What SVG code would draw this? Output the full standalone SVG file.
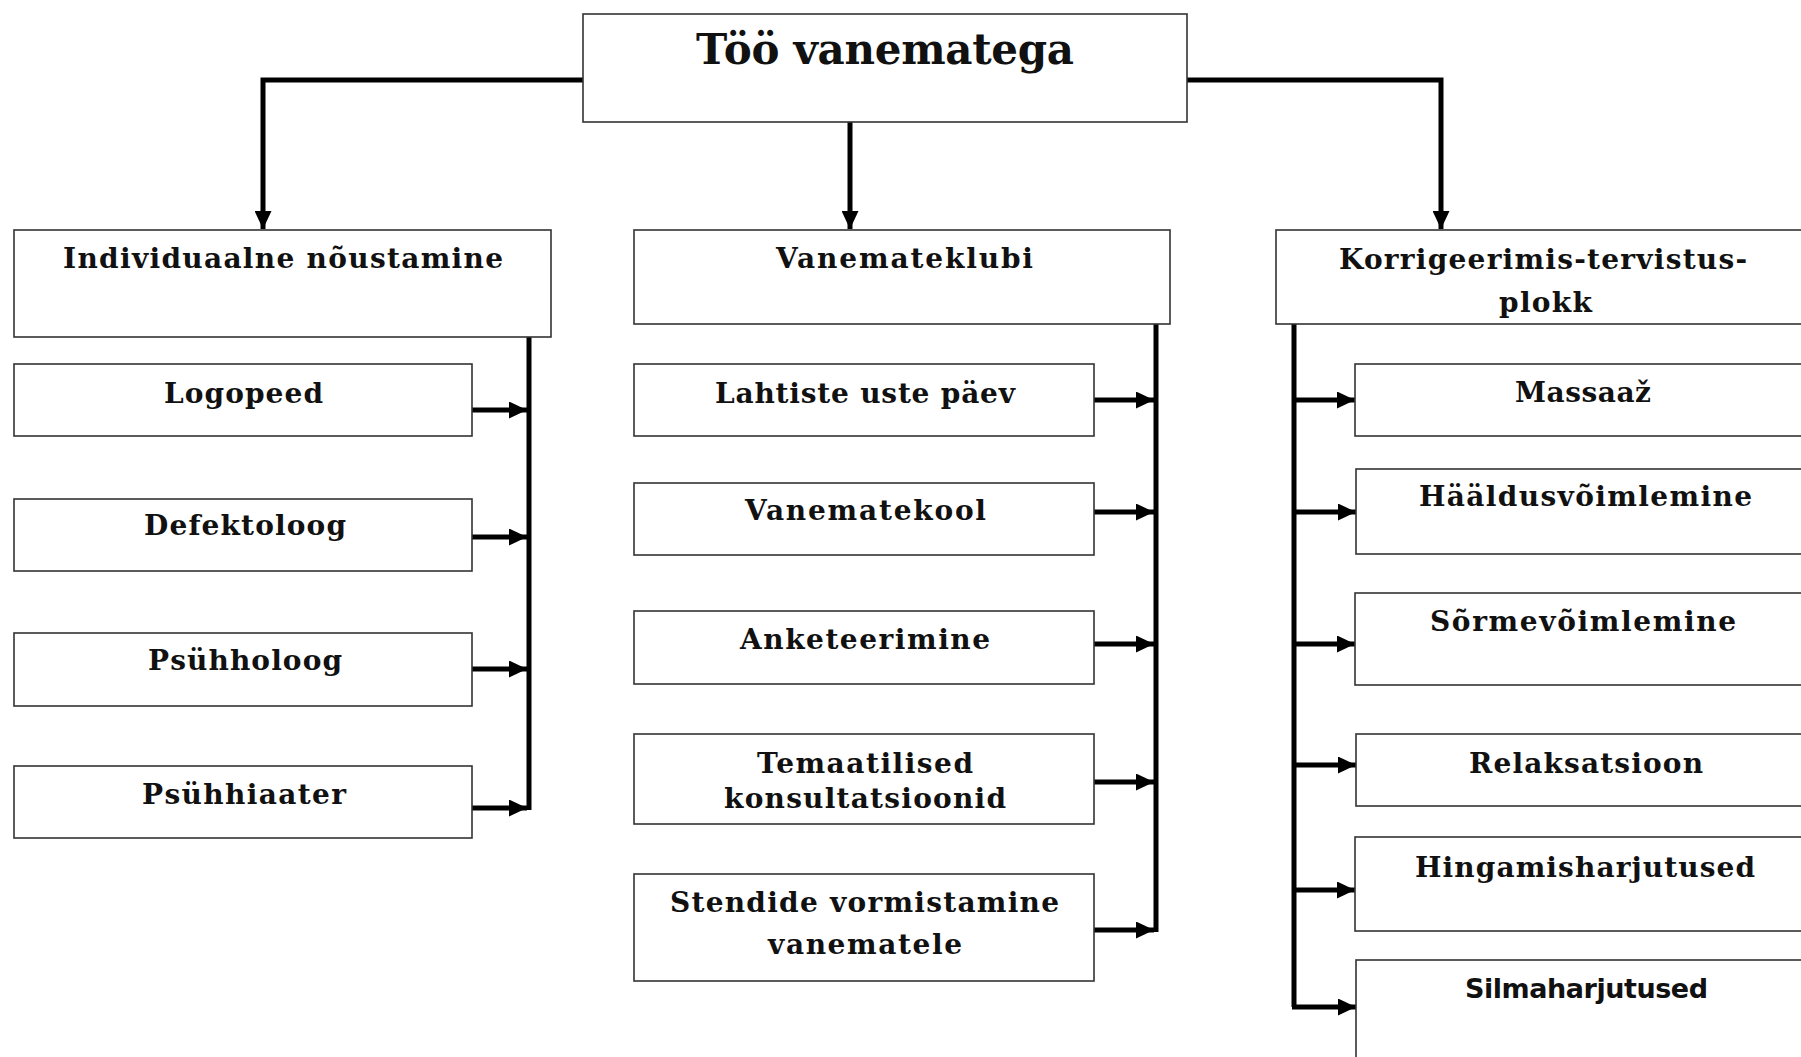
<svg xmlns="http://www.w3.org/2000/svg" width="1801" height="1057" viewBox="0 0 1801 1057">
<defs>
<style>
.box{fill:#fff;stroke:#333;stroke-width:1.6}
.t{font-family:"DejaVu Serif","Liberation Serif",serif;font-weight:bold;font-size:28px;fill:#111}
.ts{font-family:"DejaVu Sans","Liberation Sans",sans-serif;font-weight:bold;font-size:27px;fill:#111}
.title{font-family:"DejaVu Serif","Liberation Serif",serif;font-weight:bold;font-size:42px;fill:#111}
.c{fill:none;stroke:#000;stroke-width:5}
</style>
<marker id="ah" markerUnits="userSpaceOnUse" markerWidth="18" markerHeight="17" refX="18" refY="8.5" orient="auto">
<path d="M0,0 L18,8.5 L0,17 z" fill="#000"/>
</marker>
</defs>
<rect width="1801" height="1057" fill="#fff"/>

<g id="connectors">
<path class="c" d="M583,80 H263 V229" marker-end="url(#ah)"/>
<path class="c" d="M850,122 V229" marker-end="url(#ah)"/>
<path class="c" d="M1187,80 H1441 V229" marker-end="url(#ah)"/>
<path class="c" d="M529,337 V810"/>
<path class="c" d="M472,410 H527" marker-end="url(#ah)"/>
<path class="c" d="M472,537 H527" marker-end="url(#ah)"/>
<path class="c" d="M472,669 H527" marker-end="url(#ah)"/>
<path class="c" d="M472,808 H527" marker-end="url(#ah)"/>
<path class="c" d="M1156,324 V932"/>
<path class="c" d="M1094,400 H1154" marker-end="url(#ah)"/>
<path class="c" d="M1094,512 H1154" marker-end="url(#ah)"/>
<path class="c" d="M1094,644 H1154" marker-end="url(#ah)"/>
<path class="c" d="M1094,782 H1154" marker-end="url(#ah)"/>
<path class="c" d="M1094,930 H1154" marker-end="url(#ah)"/>
<path class="c" d="M1294,323 V1007"/>
<path class="c" d="M1294,400 H1355" marker-end="url(#ah)"/>
<path class="c" d="M1294,512 H1356" marker-end="url(#ah)"/>
<path class="c" d="M1294,644 H1355" marker-end="url(#ah)"/>
<path class="c" d="M1294,765 H1356" marker-end="url(#ah)"/>
<path class="c" d="M1294,890 H1355" marker-end="url(#ah)"/>
<path class="c" d="M1292,1007 H1356" marker-end="url(#ah)"/>
</g>

<g id="n-root"><rect class="box" x="583" y="14" width="604" height="108"/><text class="title" x="696" y="64" textLength="378" lengthAdjust="spacing">Töö vanematega</text></g>

<g id="n-individuaalne"><rect class="box" x="14" y="230" width="537" height="107"/><text class="t" x="63" y="268" textLength="440" lengthAdjust="spacing">Individuaalne nõustamine</text></g>
<g id="n-vanemateklubi"><rect class="box" x="634" y="230" width="536" height="94"/><text class="t" x="776" y="268" textLength="257" lengthAdjust="spacing">Vanemateklubi</text></g>
<g id="n-korrigeerimis"><rect class="box" x="1276" y="230" width="540" height="94"/><text class="t" x="1339" y="269" textLength="408" lengthAdjust="spacing">Korrigeerimis-tervistus-</text><text class="t" x="1499" y="312" textLength="93" lengthAdjust="spacing">plokk</text></g>

<g id="n-logopeed"><rect class="box" x="14" y="364" width="458" height="72"/><text class="t" x="164" y="403" textLength="159" lengthAdjust="spacing">Logopeed</text></g>
<g id="n-defektoloog"><rect class="box" x="14" y="499" width="458" height="72"/><text class="t" x="144" y="535" textLength="202" lengthAdjust="spacing">Defektoloog</text></g>
<g id="n-psuhholoog"><rect class="box" x="14" y="633" width="458" height="73"/><text class="t" x="148" y="670" textLength="194" lengthAdjust="spacing">Psühholoog</text></g>
<g id="n-psuhhiaater"><rect class="box" x="14" y="766" width="458" height="72"/><text class="t" x="142" y="804" textLength="204" lengthAdjust="spacing">Psühhiaater</text></g>

<g id="n-lahtiste"><rect class="box" x="634" y="364" width="460" height="72"/><text class="t" x="715" y="403" textLength="300" lengthAdjust="spacing">Lahtiste uste päev</text></g>
<g id="n-vanematekool"><rect class="box" x="634" y="483" width="460" height="72"/><text class="t" x="745" y="520" textLength="241" lengthAdjust="spacing">Vanematekool</text></g>
<g id="n-anketeerimine"><rect class="box" x="634" y="611" width="460" height="73"/><text class="t" x="740" y="649" textLength="250" lengthAdjust="spacing">Anketeerimine</text></g>
<g id="n-temaatilised"><rect class="box" x="634" y="734" width="460" height="90"/><text class="t" x="757" y="773" textLength="216" lengthAdjust="spacing">Temaatilised</text><text class="t" x="724" y="808" textLength="282" lengthAdjust="spacing">konsultatsioonid</text></g>
<g id="n-stendide"><rect class="box" x="634" y="874" width="460" height="107"/><text class="t" x="670" y="912" textLength="389" lengthAdjust="spacing">Stendide vormistamine</text><text class="t" x="768" y="954" textLength="194" lengthAdjust="spacing">vanematele</text></g>

<g id="n-massaaz"><rect class="box" x="1355" y="364" width="460" height="72"/><text class="t" x="1515" y="402" textLength="136" lengthAdjust="spacing">Massaaž</text></g>
<g id="n-haaldus"><rect class="box" x="1356" y="469" width="460" height="85"/><text class="t" x="1419" y="506" textLength="333" lengthAdjust="spacing">Hääldusvõimlemine</text></g>
<g id="n-sormev"><rect class="box" x="1355" y="593" width="460" height="92"/><text class="t" x="1430" y="631" textLength="306" lengthAdjust="spacing">Sõrmevõimlemine</text></g>
<g id="n-relaks"><rect class="box" x="1356" y="734" width="460" height="72"/><text class="t" x="1469" y="773" textLength="234" lengthAdjust="spacing">Relaksatsioon</text></g>
<g id="n-hingamis"><rect class="box" x="1355" y="837" width="460" height="94"/><text class="t" x="1415" y="877" textLength="340" lengthAdjust="spacing">Hingamisharjutused</text></g>
<g id="n-silma"><rect class="box" x="1356" y="960" width="460" height="110"/><text class="ts" x="1465" y="998" textLength="243" lengthAdjust="spacing">Silmaharjutused</text></g>
</svg>
